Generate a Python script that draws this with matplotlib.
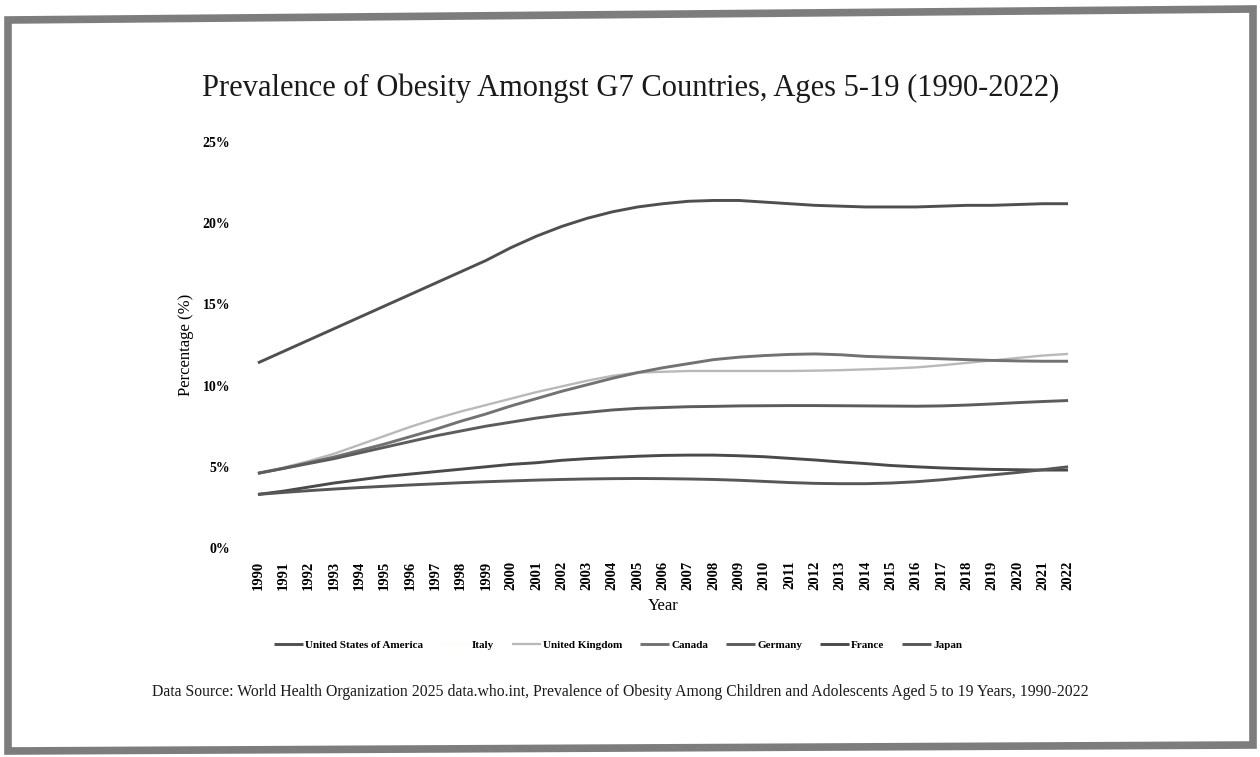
import matplotlib
matplotlib.use("Agg")
import matplotlib.pyplot as plt
from matplotlib.lines import Line2D
from matplotlib.patches import Polygon
from matplotlib.ticker import FuncFormatter

years = list(range(1990, 2023))

usa = [11.4, 12.1, 12.8, 13.5, 14.2, 14.9, 15.6, 16.3, 17.0, 17.7, 18.5, 19.2, 19.8,
       20.3, 20.7, 21.0, 21.2, 21.35, 21.4, 21.4, 21.3, 21.2, 21.1, 21.05, 21.0, 21.0,
       21.0, 21.05, 21.1, 21.1, 21.15, 21.2, 21.2]
uk = [4.6, 4.95, 5.35, 5.8, 6.35, 6.9, 7.45, 7.95, 8.4, 8.8, 9.2, 9.6, 9.95, 10.3,
      10.6, 10.8, 10.85, 10.9, 10.9, 10.9, 10.9, 10.9, 10.92, 10.95, 11.0, 11.05,
      11.12, 11.25, 11.4, 11.55, 11.7, 11.85, 11.95]
canada = [4.6, 4.9, 5.25, 5.6, 6.0, 6.4, 6.85, 7.3, 7.8, 8.25, 8.75, 9.2, 9.65, 10.05,
          10.45, 10.8, 11.1, 11.35, 11.6, 11.75, 11.85, 11.92, 11.95, 11.9, 11.8, 11.75,
          11.7, 11.65, 11.6, 11.55, 11.52, 11.5, 11.5]
germany = [4.6, 4.9, 5.2, 5.5, 5.85, 6.2, 6.55, 6.9, 7.2, 7.5, 7.75, 8.0, 8.2, 8.35,
           8.5, 8.6, 8.65, 8.7, 8.72, 8.75, 8.76, 8.77, 8.77, 8.76, 8.75, 8.74, 8.73,
           8.75, 8.8, 8.87, 8.95, 9.02, 9.08]
france = [3.3, 3.5, 3.75, 4.0, 4.2, 4.4, 4.55, 4.7, 4.85, 5.0, 5.15, 5.25, 5.4, 5.5,
          5.58, 5.65, 5.7, 5.72, 5.72, 5.68, 5.62, 5.52, 5.42, 5.3, 5.2, 5.08, 5.0,
          4.93, 4.88, 4.84, 4.82, 4.8, 4.8]
japan = [3.3, 3.42, 3.53, 3.63, 3.72, 3.8, 3.88, 3.95, 4.02, 4.08, 4.13, 4.18, 4.22,
         4.25, 4.27, 4.28, 4.27, 4.25, 4.22, 4.17, 4.1, 4.03, 3.98, 3.96, 3.96, 4.0,
         4.08, 4.2, 4.35, 4.5, 4.65, 4.82, 5.0]

y_ticks = [0, 5, 10, 15, 20, 25]

FONT = "Liberation Serif"
plt.rcParams["font.family"] = [FONT, "DejaVu Serif"]

W, H = 1260, 757
fig = plt.figure(figsize=(W / 100, H / 100), dpi=100)
fig.patch.set_facecolor("white")

# page frame
def px(x, y):
    return (x / W, 1 - y / H)

frame = Polygon([px(8, 20), px(1253, 9), px(1253, 745), px(8, 751)], closed=True,
                fill=False, edgecolor="#7d7d7d", linewidth=5.5, transform=fig.transFigure)
fig.patches.append(frame)

left = 245.3 / W
right = 1080.7 / W
bottom = 1 - 548 / H
top = 1 - 142 / H
ax = fig.add_axes([left, bottom, right - left, top - bottom])

series = [
    ("United States of America", usa, "#4f4f4f", 2.1),
    ("United Kingdom", uk, "#b9b9b9", 1.7),
    ("Canada", canada, "#727272", 2.1),
    ("Germany", germany, "#5c5c5c", 2.1),
    ("France", france, "#4a4a4a", 2.1),
    ("Japan", japan, "#575757", 2.1),
]
handles = {}
for name, vals, col, lw in series:
    ln, = ax.plot(years, vals, color=col, linewidth=lw, solid_capstyle="butt")
    handles[name] = ln

ax.set_xlim(1989.5, 2022.5)
ax.set_ylim(0, 25)
ax.set_xticks(years)
ax.set_xticklabels([str(y) for y in years], rotation=90, fontsize=10.5, fontweight="bold")
ax.set_yticks(y_ticks)
ax.yaxis.set_major_formatter(FuncFormatter(lambda v, p: f"{int(v)}%"))
for lab in ax.get_yticklabels():
    lab.set_fontsize(10)
    lab.set_fontweight("bold")
ax.tick_params(axis="both", length=0)
ax.tick_params(axis="y", pad=11)
ax.tick_params(axis="x", pad=9)
for s in ax.spines.values():
    s.set_visible(False)

ax.set_ylabel("Percentage (%)", fontsize=12, labelpad=6)
ax.set_xlabel("Year", fontsize=12, labelpad=6)

fig.text(631 / W, 1 - 88 / H, "Prevalence of Obesity Amongst G7 Countries, Ages 5-19 (1990-2022)",
         ha="center", va="center", fontsize=22, color="#1a1a1a")

legend_order = ["United States of America", "Italy", "United Kingdom", "Canada",
                "Germany", "France", "Japan"]
leg_handles = []
for name in legend_order:
    if name == "Italy":
        leg_handles.append(Line2D([], [], color="#fdfdf8", linewidth=2.1))
    else:
        leg_handles.append(handles[name])
fig.legend(leg_handles, legend_order, loc="center", bbox_to_anchor=(618 / W, 1 - 645 / H),
           ncol=7, frameon=False, handlelength=2.6, handletextpad=0.2,
           columnspacing=1.6, prop={"family": FONT, "size": 8, "weight": "bold"})

fig.text(620 / W, 1 - 692 / H,
         "Data Source: World Health Organization 2025 data.who.int, Prevalence of Obesity Among "
         "Children and Adolescents Aged 5 to 19 Years, 1990-2022",
         ha="center", va="center", fontsize=11.3, color="#1a1a1a")

fig.savefig("out.png", dpi=100, facecolor="white")
